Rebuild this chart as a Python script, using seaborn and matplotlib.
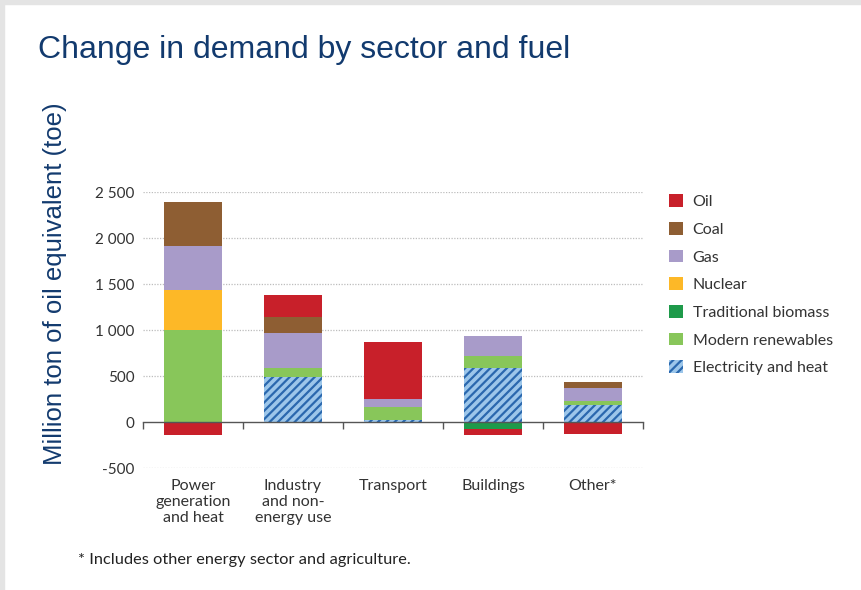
import numpy as np
import pandas as pd
import matplotlib
matplotlib.use("Agg")
import matplotlib.pyplot as plt
import seaborn as sns
from matplotlib.patches import Patch

sectors = ["Power\ngeneration\nand heat", "Industry\nand non-\nenergy use", "Transport", "Buildings", "Other*"]
fuels = ["Electricity and heat", "Traditional biomass", "Modern renewables", "Nuclear", "Gas", "Coal", "Oil"]
electricity = [0, 485, 25, 590, 180]
trad_biomass = [0, 0, 0, -75, 0]
modern_ren = [1000, 100, 140, 125, 45]
nuclear = [430, 0, 0, 0, 0]
gas = [480, 385, 90, 225, 140]
coal = [480, 170, 0, 0, 65]
oil = [-140, 240, 610, -70, -135]
yticks = [-500, 0, 500, 1000, 1500, 2000, 2500]
ytick_labels = ["-500", "0", "500", "1 000", "1 500", "2 000", "2 500"]
legend_order = ["Oil", "Coal", "Gas", "Nuclear", "Traditional biomass", "Modern renewables", "Electricity and heat"]

values = {
    "Electricity and heat": electricity,
    "Traditional biomass": trad_biomass,
    "Modern renewables": modern_ren,
    "Nuclear": nuclear,
    "Gas": gas,
    "Coal": coal,
    "Oil": oil,
}
colors = {
    "Oil": "#C8202A",
    "Coal": "#8E5E33",
    "Gas": "#A89BC9",
    "Nuclear": "#FDB827",
    "Traditional biomass": "#1E9A4A",
    "Modern renewables": "#88C65A",
    "Electricity and heat": "#9CC6EA",
}

sns.set_theme(style="white")
plt.rcParams["font.family"] = ["Lato", "DejaVu Sans"]
plt.rcParams["hatch.linewidth"] = 1.6

fig = plt.figure(figsize=(8.62, 5.90), dpi=100)
ax = fig.add_axes([143/862, 1-468/590, 500/862, 276/590])

x = np.arange(len(sectors))
pos_bottom = np.zeros(len(sectors))
neg_bottom = np.zeros(len(sectors))
for fuel in fuels:
    v = np.array(values[fuel], dtype=float)
    bottom = np.where(v >= 0, pos_bottom, neg_bottom)
    df = pd.DataFrame({"sector": sectors, "value": v})
    if fuel == "Electricity and heat":
        ax.bar(x, v, 0.58, bottom=bottom, color=colors[fuel], edgecolor="#2A68AE",
               hatch="////", linewidth=0, zorder=3)
    else:
        sns.barplot(data=df, x="sector", y="value", ax=ax, color=colors[fuel],
                    width=0.58, bottom=bottom, linewidth=0, saturation=1, zorder=3,
                    errorbar=None)
    pos_bottom += np.where(v > 0, v, 0)
    neg_bottom += np.where(v < 0, v, 0)

ax.set_xlim(-0.5, len(sectors) - 0.5)
ax.set_ylim(-500, 2500)
for t in yticks:
    if t != 0:
        ax.axhline(t, color="#BDBDBD", lw=0.9, ls=(0, (1, 1.2)), zorder=1)
ax.set_yticks(yticks)
ax.set_yticklabels(ytick_labels)
ax.tick_params(axis="y", length=0, pad=6, labelsize=11, labelcolor="#333333")

for s in ["top", "right", "left"]:
    ax.spines[s].set_visible(False)
ax.spines["bottom"].set_position(("data", 0))
ax.spines["bottom"].set_color("#555555")
ax.spines["bottom"].set_linewidth(1.0)
ax.spines["bottom"].set_zorder(4)
ax.set_xticks(x)
ax.set_xticklabels(sectors, fontsize=11.5, color="#333333", linespacing=1.2)
ax.set_xticks(np.arange(-0.5, len(sectors)), minor=True)
ax.tick_params(axis="x", which="major", length=0, pad=41)
ax.tick_params(axis="x", which="minor", length=5, width=1.0, color="#555555", direction="out", bottom=True)
ax.set_xlabel("")
ax.set_ylabel("")

handles = [Patch(facecolor=colors[f], edgecolor="#2A68AE" if f == "Electricity and heat" else colors[f],
                 hatch="////" if f == "Electricity and heat" else None, linewidth=0)
           for f in legend_order]
fig.legend(handles, legend_order, loc="upper left", bbox_to_anchor=(655/862, 1-180/590),
           frameon=False, fontsize=11.5, handlelength=0.85, handleheight=0.85,
           handletextpad=0.6, labelspacing=0.8, labelcolor="#333333")

navy = "#123A6E"
fig.text(38/862, 1-50/590, "Change in demand by sector and fuel", fontsize=23,
         color=navy, family=["Liberation Sans", "DejaVu Sans"], va="center", ha="left")
fig.text(55/862, 1-284/590, "Million ton of oil equivalent (toe)", fontsize=18.5,
         color=navy, family=["Liberation Sans", "DejaVu Sans"], rotation=90,
         va="center", ha="center")
fig.text(78/862, 1-560/590, "* Includes other energy sector and agriculture.", fontsize=11.8,
         color="#222222", va="center", ha="left")

# slide frame edges
fig.patches.append(matplotlib.patches.Rectangle((0, 1-4/590), 1, 4/590, transform=fig.transFigure,
                   color="#E4E4E4", zorder=0))
fig.patches.append(matplotlib.patches.Rectangle((0, 0), 4/862, 1, transform=fig.transFigure,
                   color="#E4E4E4", zorder=0))

fig.savefig("out.png", dpi=100)
